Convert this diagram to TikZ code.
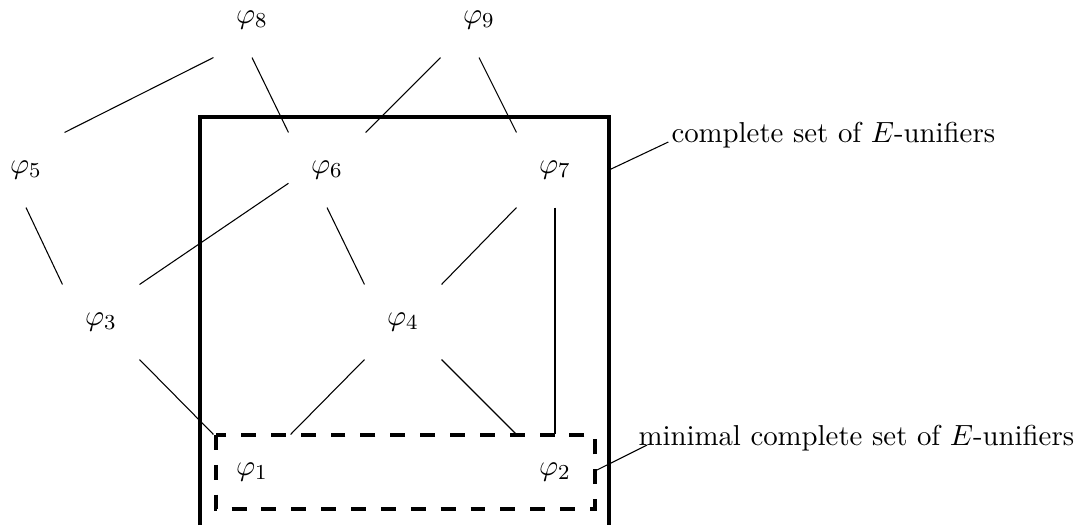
\documentclass[tikz,border=0pt]{standalone}
\usepackage{amsmath,amssymb}
\usepackage{tikz}

\begin{document}
\begin{tikzpicture}[
  x=0.375pt,y=-0.375pt,
  phi/.style={inner sep=0pt,minimum width=28.5pt,minimum height=27.75pt,
    font=\fontsize{11.2}{13}\selectfont},
  edge/.style={line width=0.4pt},
  setlabel/.style={anchor=base west,inner sep=0pt,font=\fontsize{10.8}{13}\selectfont},
  setbox/.style={line width=1.2pt},
  minbox/.style={line width=1.2pt,dash pattern=on 5.6pt off 5.6pt}
]
  \useasboundingbox (0,0) rectangle (1079,525);
  % unifiers
  \node[phi] (p8) at (252,20) {$\varphi_8$};
  \node[phi] (p9) at (479,20) {$\varphi_9$};
  \node[phi] (p5) at (26,170) {$\varphi_5$};
  \node[phi] (p6) at (327,170) {$\varphi_6$};
  \node[phi] (p7) at (555,170) {$\varphi_7$};
  \node[phi] (p3) at (101,322) {$\varphi_3$};
  \node[phi] (p4) at (403,322) {$\varphi_4$};
  \node[phi] (p1) at (252,472) {$\varphi_1$};
  \node[phi] (p2) at (555,472) {$\varphi_2$};
  % ordering
  \draw[edge] (p8.south west) -- (p5.north east);
  \draw[edge] (p8.south) -- (p6.north west);
  \draw[edge] (p9.south west) -- (p6.north east);
  \draw[edge] (p9.south) -- (p7.north west);
  \draw[edge] (p5.south) -- (p3.north west);
  \draw[edge] (p6.199) -- (p3.north east);
  \draw[edge] (p6.south) -- (p4.north west);
  \draw[edge] (p7.south west) -- (p4.north east);
  \draw[line width=0.8pt] (p7.south) -- (p2.north);
  \draw[edge] (p3.south east) -- (p1.north west);
  \draw[edge] (p4.south west) -- (p1.north east);
  \draw[edge] (p4.south east) -- (p2.north west);
  % sets
  \draw[setbox] (200,525) -- (200,117) -- (609,117) -- (609,525);
  \draw[minbox] (216,435) rectangle (595,509);
  \coordinate (cset) at (609,170);
  \coordinate (mset) at (595,471);
  \node[setlabel] (lcomplete) at (671,142) {complete set of $E$-unifiers};
  \node[setlabel] (lminimal) at (638,445) {minimal complete set of $E$-unifiers};
  \draw[edge] (cset) -- ([xshift=-1pt]lcomplete.base west);
  \draw[edge] (mset) -- ([xshift=3.4pt]lminimal.base west);
\end{tikzpicture}
\end{document}
